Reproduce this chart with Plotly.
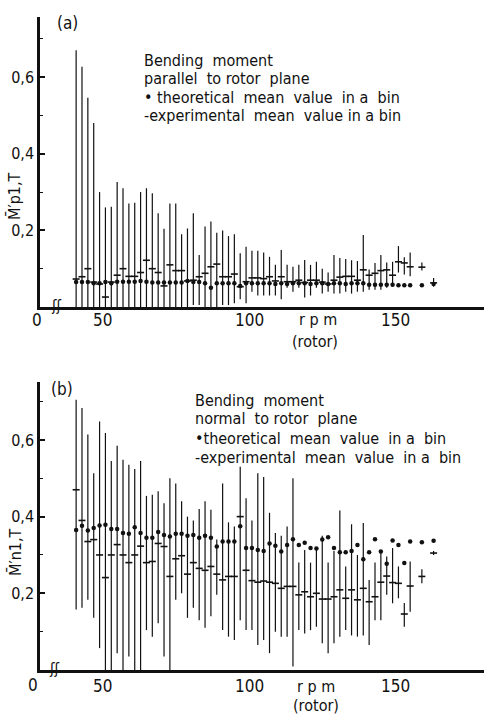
import plotly.graph_objects as go

# ---------------- data ----------------
rpm_a = [41, 43, 45, 47, 49, 51, 53, 55, 57, 59, 61, 63, 65, 67, 69, 71, 73, 75, 77, 79,
         81, 83, 85, 87, 89, 91, 93, 95, 97, 99, 101, 103, 105, 107, 109, 111, 113, 115, 117, 119,
         121, 123, 125, 127, 129, 131, 133, 135, 137, 139, 141, 143, 145, 147, 149, 151, 153, 155,
         159, 163]
theo_a = [0.065, 0.065, 0.065, 0.062, 0.062, 0.065, 0.062, 0.066, 0.066, 0.066, 0.066, 0.068, 0.066, 0.064, 0.064, 0.064, 0.064, 0.064, 0.064, 0.068,
          0.065, 0.065, 0.062, 0.050, 0.062, 0.062, 0.062, 0.062, 0.055, 0.062, 0.062, 0.062, 0.062, 0.062, 0.060, 0.062, 0.060, 0.062, 0.062, 0.062,
          0.060, 0.062, 0.062, 0.060, 0.062, 0.062, 0.060, 0.062, 0.062, 0.062, 0.058, 0.058, 0.058, 0.058, 0.058, 0.057, 0.057, 0.057,
          0.057, 0.060]
exp_a = [0.073, 0.079, 0.100, 0.065, 0.060, 0.026, 0.065, 0.083, 0.100, 0.080, 0.080, 0.090, 0.122, 0.100, 0.090, 0.055, 0.110, 0.095, 0.095, 0.068,
         0.070, 0.079, 0.088, 0.105, 0.112, 0.079, 0.079, 0.086, 0.053, 0.066, 0.076, 0.076, 0.074, 0.079, 0.068, 0.079, 0.066, 0.066, 0.070, 0.064,
         0.070, 0.070, 0.065, 0.060, 0.070, 0.078, 0.080, 0.080, 0.070, 0.097, 0.083, 0.088, 0.095, 0.097, 0.083, 0.118, 0.115, 0.105,
         0.104, 0.063]
high_a = [0.670, 0.627, 0.546, 0.480, 0.300, 0.260, 0.262, 0.326, 0.310, 0.270, 0.272, 0.300, 0.310, 0.297, 0.245, 0.204, 0.270, 0.270, 0.190, 0.205,
          0.245, 0.136, 0.210, 0.223, 0.194, 0.200, 0.185, 0.190, 0.140, 0.157, 0.147, 0.147, 0.142, 0.131, 0.110, 0.149, 0.110, 0.105, 0.110, 0.123,
          0.110, 0.118, 0.100, 0.090, 0.136, 0.128, 0.125, 0.122, 0.120, 0.188, 0.098, 0.115, 0.136, 0.116, 0.118, 0.159, 0.130, 0.142,
          0.116, 0.076]
low_a = [0.0, 0.0, 0.0, 0.0, 0.0, 0.0, 0.0, 0.0, 0.0, 0.0, 0.0, 0.0, 0.0, 0.0, 0.0, 0.0, 0.0, 0.0, 0.0, 0.0,
         0.005, 0.005, 0.0, 0.0, 0.0, 0.005, 0.005, 0.010, 0.020, 0.010, 0.040, 0.030, 0.030, 0.030, 0.030, 0.020, 0.050, 0.040, 0.050, 0.025,
         0.030, 0.050, 0.035, 0.040, 0.035, 0.035, 0.040, 0.035, 0.040, 0.040, 0.045, 0.045, 0.045, 0.050, 0.060, 0.090, 0.085, 0.080,
         0.095, 0.053]

rpm_b = rpm_a
theo_b = [0.365, 0.376, 0.364, 0.370, 0.377, 0.379, 0.368, 0.368, 0.357, 0.355, 0.372, 0.357, 0.345, 0.345, 0.360, 0.352, 0.348, 0.355, 0.355, 0.350,
          0.352, 0.345, 0.350, 0.345, 0.322, 0.335, 0.335, 0.335, 0.375, 0.318, 0.318, 0.313, 0.310, 0.330, 0.324, 0.309, 0.326, 0.341, 0.326, 0.332,
          0.318, 0.317, 0.340, 0.346, 0.318, 0.307, 0.307, 0.310, 0.326, 0.289, 0.307, 0.341, 0.309, 0.277, 0.338, 0.326, 0.279, 0.335,
          0.333, 0.337]
exp_b = [0.470, 0.390, 0.335, 0.340, 0.300, 0.241, 0.300, 0.327, 0.300, 0.280, 0.300, 0.323, 0.280, 0.283, 0.330, 0.322, 0.244, 0.290, 0.298, 0.250,
         0.280, 0.265, 0.260, 0.270, 0.250, 0.235, 0.244, 0.244, 0.400, 0.260, 0.233, 0.229, 0.232, 0.229, 0.226, 0.213, 0.218, 0.218, 0.196, 0.204,
         0.191, 0.200, 0.185, 0.185, 0.191, 0.209, 0.187, 0.209, 0.183, 0.213, 0.178, 0.191, 0.229, 0.245, 0.228, 0.226, 0.146, 0.219,
         0.244, 0.305]
high_b = [0.705, 0.683, 0.614, 0.513, 0.648, 0.618, 0.545, 0.585, 0.548, 0.535, 0.524, 0.545, 0.454, 0.457, 0.466, 0.435, 0.500, 0.486, 0.440, 0.400,
          0.390, 0.420, 0.440, 0.418, 0.340, 0.486, 0.385, 0.374, 0.530, 0.448, 0.390, 0.513, 0.503, 0.410, 0.357, 0.350, 0.374, 0.500, 0.280, 0.313,
          0.280, 0.313, 0.350, 0.280, 0.310, 0.416, 0.270, 0.380, 0.300, 0.383, 0.235, 0.280, 0.310, 0.296, 0.318, 0.270, 0.175, 0.283,
          0.263, 0.310]
low_b = [0.158, 0.162, 0.183, 0.136, 0.057, 0.0, 0.0, 0.044, 0.0, 0.035, 0.0, 0.0, 0.104, 0.087, 0.122, 0.035, 0.0, 0.183, 0.200, 0.136,
         0.162, 0.130, 0.110, 0.140, 0.196, 0.104, 0.087, 0.078, 0.130, 0.104, 0.104, 0.065, 0.078, 0.044, 0.100, 0.087, 0.087, 0.009, 0.104, 0.095,
         0.104, 0.113, 0.070, 0.044, 0.070, 0.087, 0.104, 0.090, 0.087, 0.090, 0.065, 0.130, 0.130, 0.196, 0.174, 0.187, 0.113, 0.152,
         0.226, 0.300]

x_tick_vals = [50, 100, 150]
x_tick_text = ["50", "100", "150"]
y_tick_vals = [0.2, 0.4, 0.6]
y_tick_text = ["0,2", "0,4", "0,6"]
y_minor_vals = [0.1, 0.3, 0.5, 0.7]

legend_a = ["Bending  moment", "parallel  to rotor  plane",
            "\u2022 theoretical  mean  value  in a  bin", "-experimental  mean  value in a bin"]
legend_b = ["Bending  moment", "normal  to rotor  plane",
            "\u2022theoretical  mean  value  in a  bin", "-experimental  mean  value  in a  bin"]

# ---------------- layout helpers ----------------
W, H = 484, 715
def px(x):
    return x / W
def py(y):
    return 1 - y / H

FONT = "DejaVu Sans Condensed, DejaVu Sans, sans-serif"
NARROW = "Liberation Sans Narrow, DejaVu Sans Condensed, sans-serif"
INK = "#111111"

fig = go.Figure()

def add_panel(rpm, theo, expv, hi, lo, xa, ya):
    plus = [h - e for h, e in zip(hi, expv)]
    minus = [e - l for e, l in zip(expv, lo)]
    fig.add_trace(go.Scatter(
        x=rpm, y=expv, mode="markers", xaxis=xa, yaxis=ya, showlegend=False,
        marker=dict(symbol="line-ew-open", size=5, line=dict(width=1.6, color=INK), color=INK),
        error_y=dict(type="data", symmetric=False, array=plus, arrayminus=minus,
                     width=0, thickness=1.2, color=INK)))
    fig.add_trace(go.Scatter(
        x=rpm, y=theo, mode="markers", xaxis=xa, yaxis=ya, showlegend=False,
        marker=dict(symbol="circle", size=4.5, color=INK)))

add_panel(rpm_a, theo_a, exp_a, high_a, low_a, "x", "y")
add_panel(rpm_b, theo_b, exp_b, high_b, low_b, "x2", "y2")

xcommon = dict(range=[28.67, 180.2], showline=True, linecolor=INK, linewidth=2.5,
               showgrid=False, zeroline=False, ticks="", showticklabels=False, automargin=False)
ycommon = dict(showline=True, linecolor=INK, linewidth=2.5, showgrid=False, zeroline=False,
               ticks="inside", ticklen=5, tickwidth=1.5, tickcolor=INK, automargin=False,
               tickvals=y_tick_vals, ticktext=y_tick_text,
               minor=dict(tickvals=y_minor_vals, ticks="inside", ticklen=3, tickwidth=1.2, tickcolor=INK),
               tickfont=dict(family=NARROW, size=16, color=INK))

fig.update_layout(
    width=W, height=H, autosize=False,
    margin=dict(l=0, r=0, t=0, b=0, autoexpand=False),
    paper_bgcolor="white", plot_bgcolor="white",
    xaxis=dict(domain=[px(40), 1.0], anchor="y", **xcommon),
    yaxis=dict(domain=[py(307), py(17)], range=[0, 0.757], anchor="x", **ycommon),
    xaxis2=dict(domain=[px(40), 1.0], anchor="y2", **xcommon),
    yaxis2=dict(domain=[py(670), py(382)], range=[0, 0.751], anchor="x2", **ycommon),
)

ann = []
def text(x, y, s, size=15, xanchor="left", angle=0, family=FONT):
    ann.append(dict(x=px(x), y=py(y), xref="paper", yref="paper", text=s, showarrow=False,
                    xanchor=xanchor, yanchor="middle", textangle=angle,
                    font=dict(family=family, size=size, color=INK)))

def xticks(xref, ypix):
    for v, t in zip(x_tick_vals, x_tick_text):
        ann.append(dict(x=v, y=py(ypix), xref=xref, yref="paper", text=t, showarrow=False,
                        xanchor="center", yanchor="middle",
                        font=dict(family=NARROW, size=17, color=INK)))

# panel (a)
text(67, 23, "(a)", 17, "center")
for i, s in enumerate(legend_a):
    text(142, [60, 78, 97, 116][i], s, 16)
text(15, 196, "M\u0304\u2032p1,T", 16, "center", -90)
text(37, 320, "0", 17, "center", family=NARROW)
text(56, 306, "\u0283\u0283", 15, "center")
xticks("x", 320)
text(318, 320, "r p m", 16, "center")
text(315, 341, "(rotor)", 16, "center")

# panel (b)
text(62, 389, "(b)", 17, "center")
for i, s in enumerate(legend_b):
    text(193, [400, 418, 438, 457][i], s, 16)
text(15, 552, "M\u0304\u2032n1,T", 16, "center", -90)
text(33, 685, "0", 17, "center", family=NARROW)
text(54, 669, "\u0283\u0283", 15, "center")
xticks("x2", 686)
text(316, 686, "r p m", 16, "center")
text(316, 705, "(rotor)", 16, "center")

fig.update_layout(annotations=ann)
fig.write_html("out.html", config={"displayModeBar": False},
               post_script="document.body.style.margin='0';document.body.style.overflow='hidden';")
